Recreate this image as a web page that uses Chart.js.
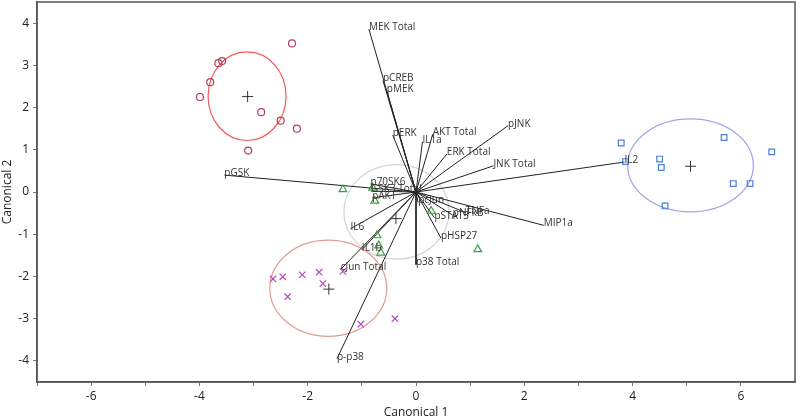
<!DOCTYPE html>
<html>
<head>
<meta charset="utf-8">
<script src="https://cdn.jsdelivr.net/npm/chart.js@4"></script>
<style>
  html, body { margin: 0; padding: 0; background: #fff; }
  #wrap { width: 800px; height: 420px; }
</style>
</head>
<body>
<div id="wrap"><canvas id="chart" width="800" height="420"></canvas></div>
<script>
// group scores (Canonical 1, Canonical 2)
const circleX = [-2.29, -3.65, -3.58, -3.80, -3.99, -2.86, -2.50, -2.20, -3.10];
const circleY = [3.52, 3.05, 3.10, 2.60, 2.25, 1.89, 1.69, 1.50, 0.98];
const squareX = [3.79, 3.87, 4.50, 4.53, 5.69, 6.57, 5.86, 6.17, 4.60];
const squareY = [1.16, 0.72, 0.78, 0.58, 1.29, 0.95, 0.20, 0.20, -0.33];
const crossX = [-2.64, -2.46, -2.10, -1.79, -1.35, -1.72, -2.37, -1.02, -0.39];
const crossY = [-2.06, -2.01, -1.96, -1.90, -1.88, -2.17, -2.48, -3.13, -3.00];
const triX = [-1.35, -0.80, -0.76, 0.28, -0.72, -0.69, -0.65, 1.14];
const triY = [0.06, 0.10, -0.21, -0.45, -1.03, -1.27, -1.44, -1.36];

// group means
const meanX = [-3.11, 5.07, -1.61, -0.37];
const meanY = [2.26, 0.61, -2.30, -0.63];

// confidence ellipses: centre and radii in axis units
const ellCX = [-3.12, 5.07, -1.62, -0.36];
const ellCY = [2.27, 0.63, -2.28, -0.47];
const ellRX = [0.72, 1.16, 1.08, 0.97];
const ellRY = [1.05, 1.10, 1.14, 1.12];

// biplot rays
const rayNames = ['MEK Total', 'pCREB', 'pMEK', 'pERK', 'IL1a', 'AKT Total', 'ERK Total', 'pJNK',
  'JNK Total', 'IL2', 'MIP1a', 'TNFa', 'pNFkB', 'pSTAT3', 'pHSP27', 'pcJun', 'p38 Total',
  'p-p38', 'cJun Total', 'IL1b', 'IL6', 'pAKT', 'GSK3 Total', 'p70SK6', 'pGSK'];
const rayX = [-0.87, -0.61, -0.54, -0.43, 0.12, 0.31, 0.57, 1.70,
  1.43, 3.85, 2.36, 0.92, 0.68, 0.34, 0.46, 0.04, 0.00,
  -1.46, -1.39, -1.00, -1.21, -0.81, -0.83, -0.84, -3.54];
const rayY = [3.86, 2.64, 2.40, 1.35, 1.19, 1.37, 0.90, 1.57,
  0.62, 0.71, -0.79, -0.49, -0.55, -0.61, -1.09, -0.25, -1.72,
  -3.95, -1.83, -1.37, -0.87, -0.14, 0.02, 0.19, 0.40];

const xTicks = [-7, -6, -5, -4, -3, -2, -1, 0, 1, 2, 3, 4, 5, 6];
const yTicks = [-4, -3, -2, -1, 0, 1, 2, 3, 4];

const ellColors = ['#f05a5a', '#a0a4ea', '#e39a94', '#d4d4d4'];

const pts = (xs, ys) => xs.map((x, i) => ({ x: x, y: ys[i] }));

const rayDatasets = rayX.map((x, i) => ({
  type: 'line',
  data: [{ x: 0, y: 0 }, { x: x, y: rayY[i] }],
  borderColor: '#222',
  borderWidth: 1,
  pointRadius: 0,
  order: 5
}));

const groupStyle = (data, style, color, r) => ({
  data: data,
  pointStyle: style,
  pointRadius: r,
  pointBorderColor: color,
  pointBackgroundColor: 'rgba(0,0,0,0)',
  pointBorderWidth: 1.2,
  showLine: false,
  order: 1
});

const ellipsePlugin = {
  id: 'ellipses',
  beforeDatasetsDraw(chart) {
    const { ctx, scales: { x, y } } = chart;
    ctx.save();
    ellCX.forEach((cx, i) => {
      const px = x.getPixelForValue(cx);
      const py = y.getPixelForValue(ellCY[i]);
      const rx = Math.abs(x.getPixelForValue(cx + ellRX[i]) - px);
      const ry = Math.abs(y.getPixelForValue(ellCY[i] + ellRY[i]) - py);
      ctx.beginPath();
      ctx.ellipse(px, py, rx, ry, 0, 0, Math.PI * 2);
      ctx.strokeStyle = ellColors[i];
      ctx.lineWidth = 1.2;
      ctx.stroke();
    });
    ctx.restore();
  }
};

const labelPlugin = {
  id: 'rayLabels',
  afterDatasetsDraw(chart) {
    const { ctx, scales: { x, y }, chartArea } = chart;
    ctx.save();
    ctx.font = '10px "Open Sans", "DejaVu Sans", sans-serif';
    ctx.fillStyle = '#333';
    ctx.textAlign = 'left';
    ctx.textBaseline = 'middle';
    rayNames.forEach((name, i) => {
      ctx.fillText(name, x.getPixelForValue(rayX[i]), y.getPixelForValue(rayY[i]) - 2);
    });
    // frame round the plot
    ctx.strokeStyle = '#555';
    ctx.lineWidth = 1.5;
    ctx.strokeRect(chartArea.left, chartArea.top, chartArea.right - chartArea.left, chartArea.bottom - chartArea.top);
    ctx.restore();
  }
};

new Chart(document.getElementById('chart'), {
  type: 'scatter',
  data: {
    datasets: [
      groupStyle(pts(circleX, circleY), 'circle', '#b8405c', 3.5),
      groupStyle(pts(squareX, squareY), 'rect', '#4a7fd4', 4),
      groupStyle(pts(crossX, crossY), 'crossRot', '#b545c4', 4.5),
      groupStyle(pts(triX, triY), 'triangle', '#3f9f47', 4.5),
      {
        data: pts(meanX, meanY),
        pointStyle: 'cross',
        pointRadius: 5.5,
        pointBorderColor: '#333',
        pointBorderWidth: 1,
        showLine: false,
        order: 0
      },
      ...rayDatasets
    ]
  },
  options: {
    responsive: false,
    animation: false,
    layout: { autoPadding: false, padding: { top: 2, right: 5, left: 0, bottom: 0 } },
    plugins: { legend: { display: false }, tooltip: { enabled: false } },
    scales: {
      x: {
        type: 'linear',
        min: -7,
        max: 7,
        afterBuildTicks: (s) => { s.ticks = xTicks.map(v => ({ value: v })); },
        afterFit: (s) => { s.height = 38; s.paddingLeft = 0; s.paddingRight = 0; },
        grid: { display: true, drawOnChartArea: false, drawTicks: true, tickLength: 4, color: '#777' },
        border: { display: true, color: '#555', width: 1.5 },
        ticks: {
          autoSkip: false,
          maxRotation: 0,
          color: '#222',
          font: { family: '"Open Sans", "DejaVu Sans", sans-serif', size: 12 },
          padding: 3,
          callback: (v) => (v % 2 === 0 ? String(v) : '')
        },
        title: {
          display: true,
          text: 'Canonical 1',
          color: '#222',
          font: { family: '"Open Sans", "DejaVu Sans", sans-serif', size: 12 },
          padding: { top: 0, bottom: 0 }
        }
      },
      y: {
        type: 'linear',
        min: -4.5,
        max: 4.5,
        afterBuildTicks: (s) => { s.ticks = yTicks.map(v => ({ value: v })); },
        afterFit: (s) => { s.width = 37; s.paddingTop = 0; s.paddingBottom = 0; },
        grid: { display: true, drawOnChartArea: false, drawTicks: true, tickLength: 4, color: '#777' },
        border: { display: true, color: '#555', width: 1.5 },
        ticks: {
          color: '#222',
          font: { family: '"Open Sans", "DejaVu Sans", sans-serif', size: 12 },
          padding: 4
        },
        title: {
          display: true,
          text: 'Canonical 2',
          color: '#222',
          font: { family: '"Open Sans", "DejaVu Sans", sans-serif', size: 12 },
          padding: { top: 0, bottom: 0 }
        }
      }
    }
  },
  plugins: [ellipsePlugin, labelPlugin]
});
</script>
</body>
</html>
